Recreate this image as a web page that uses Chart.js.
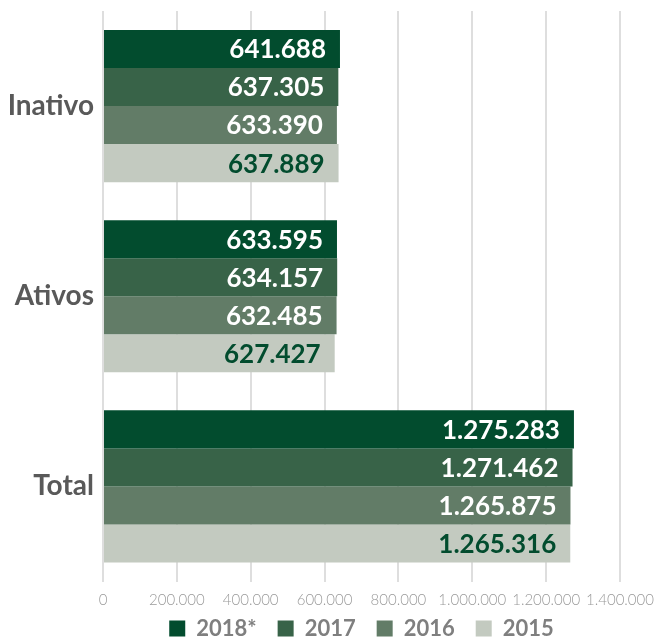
<!DOCTYPE html>
<html lang="pt-BR">
<head>
<meta charset="utf-8">
<title>Inativo / Ativos / Total</title>
<script src="https://cdn.jsdelivr.net/npm/chart.js@4/dist/chart.umd.min.js"></script>
<style>
    html, body { margin: 0; padding: 0; background: #ffffff; }
    #wrap { width: 656px; height: 639px; position: relative; }
</style>
</head>
<body>
<div id="wrap"><canvas id="grafico"></canvas></div>
<script>
// dados
const categorias = ['Inativo', 'Ativos', 'Total'];
const anos = ['2018*', '2017', '2016', '2015'];
const valores2018 = [641688, 633595, 1275283];
const valores2017 = [637305, 634157, 1271462];
const valores2016 = [633390, 632485, 1265875];
const valores2015 = [637889, 627427, 1265316];
const rotulosEixo = ['0', '200.000', '400.000', '600.000', '800.000', '1.000.000', '1.200.000', '1.400.000'];

const cores = ['#024c2e', '#386348', '#627c67', '#c3cac0'];
const coresTexto = ['#ffffff', '#ffffff', '#ffffff', '#024c2e'];

// separador de milhar com ponto
function formatarNumero(v) {
    return String(v).replace(/\B(?=(\d{3})+(?!\d))/g, '.');
}

// escreve o valor dentro da barra, encostado no fim
const rotulosBarras = {
    id: 'rotulosBarras',
    afterDatasetsDraw(chart) {
        const ctx = chart.ctx;
        ctx.save();
        ctx.font = 'bold 26px Lato';
        ctx.textAlign = 'right';
        ctx.textBaseline = 'middle';
        chart.data.datasets.forEach((ds, i) => {
            const meta = chart.getDatasetMeta(i);
            meta.data.forEach((bar, j) => {
                ctx.fillStyle = coresTexto[i];
                ctx.fillText(formatarNumero(ds.data[j]), bar.x - 14, bar.y + 1);
            });
        });
        ctx.restore();
    }
};

// o eixo x fica baixo para o layout, mas os rótulos não podem ser cortados
const eixoSemCorte = {
    id: 'eixoSemCorte',
    afterLayout(chart) {
        chart.scales.x.bottom = chart.height;
    }
};

const series = [valores2018, valores2017, valores2016, valores2015];

new Chart(document.getElementById('grafico'), {
    type: 'bar',
    data: {
        labels: categorias,
        datasets: series.map((dados, i) => ({
            label: anos[i],
            data: dados,
            backgroundColor: cores[i],
            borderWidth: 0,
            barPercentage: 1,
            categoryPercentage: 0.8
        }))
    },
    options: {
        indexAxis: 'y',
        responsive: true,
        maintainAspectRatio: false,
        animation: false,
        layout: { padding: { top: 11, right: 36, left: 0, bottom: -10.5 } },
        plugins: {
            tooltip: { enabled: false },
            legend: {
                position: 'bottom',
                fullSize: false,
                labels: {
                    boxWidth: 16,
                    boxHeight: 16,
                    padding: 21,
                    color: '#7f7f7f',
                    font: { family: 'Lato', size: 22, weight: 'bold' }
                }
            }
        },
        scales: {
            x: {
                min: 0,
                max: 1400000,
                afterFit(scale) {
                    scale.height = 15;
                    scale.paddingLeft = 0;
                    scale.paddingRight = 0;
                },
                ticks: {
                    stepSize: 200000,
                    color: '#9a9a9a',
                    padding: 10,
                    maxRotation: 0,
                    font: { family: 'Lato', size: 15, weight: '300' },
                    callback: (v, i) => rotulosEixo[i]
                },
                grid: { color: '#dedede', lineWidth: 2, drawTicks: false },
                border: { display: false }
            },
            y: {
                afterFit(scale) {
                    scale.width = 103;
                    scale.paddingTop = 0;
                    scale.paddingBottom = 0;
                },
                ticks: {
                    color: '#595959',
                    padding: 9,
                    font: { family: 'Lato', size: 28, weight: 'bold' }
                },
                grid: { display: false, drawTicks: false },
                border: { display: false }
            }
        }
    },
    plugins: [rotulosBarras, eixoSemCorte]
});
</script>
</body>
</html>
